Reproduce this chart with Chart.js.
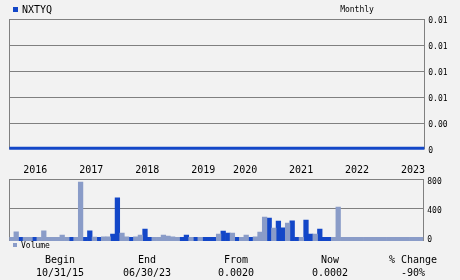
<!DOCTYPE html>
<html><head><meta charset="utf-8">
<script src="https://cdn.jsdelivr.net/npm/chart.js@4/dist/chart.umd.min.js"></script>
<style>
html,body{margin:0;padding:0;background:#f2f2f2;}
#wrap{position:relative;width:460px;height:280px;overflow:hidden;font-family:"DejaVu Sans Mono",monospace;color:#000;}
canvas{position:absolute;left:0;top:0;}
.t{position:absolute;white-space:nowrap;line-height:1;transform:translate(-50%,-50%);}
.l{position:absolute;white-space:nowrap;line-height:1;transform:translateY(-50%);}
.sq{position:absolute;}
</style></head><body>
<div id="wrap">
<canvas id="price" width="460" height="280"></canvas>
<canvas id="vol" width="460" height="280"></canvas>
<div class="sq" style="left:13px;top:7px;width:5px;height:5px;background:#1347c8"></div>
<div class="l" id="sym" style="left:22px;top:9.5px;font-size:10px"></div>
<div class="t" id="period" style="left:357px;top:9.5px;font-size:8px"></div>
<div class="sq" style="left:13px;top:243px;width:4px;height:4px;background:#8a9cc8"></div>
<div class="l" id="volLbl" style="left:21px;top:245.5px;font-size:8px"></div>
<div id="footer"></div>
</div>
<script>
const symbol = 'NXTYQ';
const period = 'Monthly';
const volumeLabel = 'Volume';

const months = [
 '2015-10','2015-11','2015-12',
 '2016-01','2016-02','2016-03','2016-04','2016-05','2016-06','2016-07','2016-08','2016-09','2016-10','2016-11','2016-12',
 '2017-01','2017-02','2017-03','2017-04','2017-05','2017-06','2017-07','2017-08','2017-09','2017-10','2017-11','2017-12',
 '2018-01','2018-02','2018-03','2018-04','2018-05','2018-06','2018-07','2018-08','2018-09','2018-10','2018-11','2018-12',
 '2019-01','2019-02','2019-03','2019-04','2019-05','2019-06','2019-10','2019-11','2019-12',
 '2020-01','2020-02','2020-03','2020-04','2020-05','2020-06','2020-07','2020-08','2020-09','2020-10','2020-11','2020-12',
 '2021-01','2021-02','2021-03','2021-04','2021-05','2021-06','2021-07','2021-08','2021-09','2021-10','2021-11','2021-12',
 '2022-01','2022-02','2022-03','2022-04','2022-05','2022-06','2022-07','2022-08','2022-09','2022-10','2022-11','2022-12',
 '2023-01','2023-02','2023-03','2023-04','2023-05','2023-06'
];

const price = [
 0.0001,0.0001,0.0001,0.0001,0.0001,0.0001,0.0001,0.0001,0.0001,0.0001,
 0.0001,0.0001,0.0001,0.0001,0.0001,0.0001,0.0001,0.0001,0.0001,0.0001,
 0.0001,0.0001,0.0001,0.0001,0.0001,0.0001,0.0001,0.0001,0.0001,0.0001,
 0.0001,0.0001,0.0001,0.0001,0.0001,0.0001,0.0001,0.0001,0.0001,0.0001,
 0.0001,0.0001,0.0001,0.0001,0.0001,0.0001,0.0001,0.0001,0.0001,0.0001,
 0.0001,0.0001,0.0001,0.0001,0.0001,0.0001,0.0001,0.0001,0.0001,0.0001,
 0.0001,0.0001,0.0001,0.0001,0.0001,0.0001,0.0001,0.0001,0.0001,0.0001,
 0.0001,0.0001,0.0001,0.0001,0.0001,0.0001,0.0001,0.0001,0.0001,0.0001,
 0.0001,0.0001,0.0001,0.0001,0.0001,0.0001,0.0001,0.0001,0.0001,0.0001
];

const volume = [
 0,77,0,0,0,0,0,91,0,0,
 0,32,0,0,0,763,0,91,5,0,
 6,6,45,545,60,6,0,6,32,114,
 0,0,0,32,18,8,0,0,32,0,
 0,0,0,0,0,45,87,59,59,0,
 0,32,0,6,73,280,266,128,225,130,
 197,228,0,0,238,45,45,114,0,0,
 0,418,0,0,0,0,0,0,0,0,
 0,0,0,0,0,0,0,0,0,0
];
// 1 = up month (light bar), 0 = down month (dark bar)
const upMonth = [
 1,1,0,1,1,0,1,1,1,1,
 1,1,1,0,1,1,0,0,1,0,
 1,1,0,0,1,1,0,1,1,0,
 0,1,1,1,1,1,1,0,0,1,
 0,1,0,0,0,1,0,0,1,0,
 1,1,0,1,1,1,0,1,0,0,
 1,0,0,1,0,0,1,0,0,0,
 1,1,1,1,1,1,1,1,1,1,
 1,1,1,1,1,1,1,1,1,1
];

const priceTickValues = [0, 0.0025, 0.005, 0.0075, 0.01, 0.0125];
const priceTickLabels = ['0', '0.00', '0.01', '0.01', '0.01', '0.01'];
const volTickValues = [0, 400, 800];
const volTickLabels = ['0', '400', '800'];

const footerLabels = ['Begin', 'End', 'From', 'Now', '% Change'];
const footerValues = ['10/31/15', '06/30/23', '0.0020', '0.0002', '-90%'];

// ---- styling ----
const FONT = 'DejaVu Sans Mono';
const GRID = '#808080';
const DARK = '#1347c8';
const LIGHT = '#8a9cc8';

document.getElementById('sym').textContent = symbol;
document.getElementById('period').textContent = period;
document.getElementById('volLbl').textContent = volumeLabel;

const footerX = [60, 147, 236, 330, 413];
const footer = document.getElementById('footer');
footerLabels.forEach((s, i) => {
  const a = document.createElement('div');
  a.className = 't'; a.style.left = footerX[i] + 'px'; a.style.top = '259.5px'; a.style.fontSize = '10px';
  a.textContent = s; footer.appendChild(a);
  const b = document.createElement('div');
  b.className = 't'; b.style.left = footerX[i] + 'px'; b.style.top = '273px'; b.style.fontSize = '10px';
  b.textContent = footerValues[i]; footer.appendChild(b);
});

const frame = {
  id: 'frame',
  beforeDatasetsDraw(chart) {
    const {ctx, chartArea: a} = chart;
    ctx.save();
    ctx.strokeStyle = GRID; ctx.lineWidth = 1;
    ctx.beginPath();
    const l = Math.floor(a.left) + 0.5, r = Math.floor(a.right) + 0.5;
    ctx.moveTo(l, Math.floor(a.top)); ctx.lineTo(l, a.bottom);
    ctx.moveTo(r, Math.floor(a.top)); ctx.lineTo(r, a.bottom);
    ctx.stroke();
    ctx.restore();
  }
};

Chart.defaults.font.family = FONT;
Chart.defaults.color = '#000';

new Chart(document.getElementById('price'), {
  type: 'line',
  data: {
    labels: months,
    datasets: [{
      data: price, borderColor: DARK, borderWidth: 3, pointRadius: 0,
      tension: 0, fill: false, clip: 6
    }]
  },
  options: {
    responsive: false, animation: false,
    layout: {padding: {left: 9.3, top: 19.3, right: 0, bottom: 100.7}},
    plugins: {legend: {display: false}, tooltip: {enabled: false}},
    scales: {
      x: {
        type: 'category', offset: false,
        grid: {display: false, drawTicks: true, tickLength: 15},
        border: {display: false},
        ticks: {
          autoSkip: false, maxRotation: 0, minRotation: 0, align: 'start',
          padding: 0, font: {size: 10, family: FONT}, color: '#000',
          callback: (v, i) => months[i].endsWith('-01') ? months[i].slice(0, 4) : ''
        },
        afterFit: s => { s.height = 30; }
      },
      y: {
        type: 'linear', position: 'right', min: 0, max: 0.0125,
        afterBuildTicks: s => { s.ticks = priceTickValues.map(v => ({value: v})); },
        grid: {drawTicks: false, color: c => (c.tick && c.tick.value === 0) ? 'rgba(0,0,0,0)' : GRID, lineWidth: 1},
        border: {display: false},
        ticks: {
          padding: 4, labelOffset: 2, font: {size: 8, family: FONT}, color: '#000',
          callback: (v, i) => priceTickLabels[i]
        },
        afterFit: s => { s.width = 35.7; }
      }
    }
  },
  plugins: [frame]
});

new Chart(document.getElementById('vol'), {
  type: 'bar',
  data: {
    labels: months,
    datasets: [
      {data: volume.map((v, i) => upMonth[i] ? v : null), backgroundColor: LIGHT, base: -50,
       categoryPercentage: 1, barPercentage: 1, grouped: false},
      {data: volume.map((v, i) => upMonth[i] ? null : v), backgroundColor: DARK, base: -50,
       categoryPercentage: 1, barPercentage: 1, grouped: false}
    ]
  },
  options: {
    responsive: false, animation: false,
    layout: {padding: {left: 9.3, top: 179.3, right: 0, bottom: 39}},
    plugins: {legend: {display: false}, tooltip: {enabled: false}},
    scales: {
      x: {type: 'category', offset: true, display: false},
      y: {
        type: 'linear', position: 'right', min: -50, max: 800,
        afterBuildTicks: s => { s.ticks = volTickValues.map(v => ({value: v})); },
        grid: {drawTicks: false, color: c => (c.tick && c.tick.value === 0) ? 'rgba(0,0,0,0)' : GRID, lineWidth: 1},
        border: {display: false},
        ticks: {
          padding: 4, labelOffset: 2.5, font: {size: 8, family: FONT}, color: '#000',
          callback: (v, i) => volTickLabels[i]
        },
        afterFit: s => { s.width = 36.7; }
      }
    }
  },
  plugins: [frame]
});
</script>
</body></html>
